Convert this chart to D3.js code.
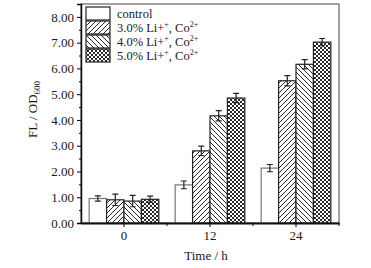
<!DOCTYPE html>
<html>
<head>
<meta charset="utf-8">
<script src="https://cdn.jsdelivr.net/npm/d3@7"></script>
<style>
  body { margin: 0; background: #fff; }
  text { font-family: "Liberation Serif", "Times New Roman", serif; fill: #1a1a1a; }
</style>
</head>
<body>
<div id="chart"></div>
<script>
const W = 371, H = 268;
const margin = { top: 4, right: 32, bottom: 45, left: 81 };
const width = W - margin.left - margin.right;
const height = H - margin.top - margin.bottom;

// data
const times = ["0", "12", "24"];
const seriesNames = ["control", "3.0% Li+, Co2+", "4.0% Li+, Co2+", "5.0% Li+, Co2+"];
const control = [0.95, 1.48, 2.13];
const li30 = [0.90, 2.80, 5.52];
const li40 = [0.85, 4.16, 6.16];
const li50 = [0.92, 4.85, 7.02];
const controlErr = [0.10, 0.15, 0.14];
const li30Err = [0.22, 0.18, 0.20];
const li40Err = [0.22, 0.20, 0.18];
const li50Err = [0.12, 0.18, 0.14];
const yTicks = [0, 1, 2, 3, 4, 5, 6, 7, 8];

const values = [control, li30, li40, li50];
const errors = [controlErr, li30Err, li40Err, li50Err];
const fills = ["#fff", "url(#fwd)", "url(#back)", "url(#cross)"];

const svg = d3.select("#chart").append("svg")
    .attr("width", W)
    .attr("height", H);

// hatch patterns
const defs = svg.append("defs");
function hatch(id, paths, size) {
    const p = defs.append("pattern")
        .attr("id", id)
        .attr("patternUnits", "userSpaceOnUse")
        .attr("width", size).attr("height", size);
    p.append("rect").attr("width", size).attr("height", size).attr("fill", "#fff");
    paths.forEach(d => p.append("path").attr("d", d)
        .attr("stroke", "#111").attr("stroke-width", 0.9).attr("fill", "none"));
}
hatch("fwd", ["M-1,1 L1,-1 M0,5 L5,0 M4,6 L6,4"], 5);
hatch("back", ["M-1,4 L1,6 M0,0 L5,5 M4,-1 L6,1"], 5);
hatch("cross", ["M-1,1 L1,-1 M0,4 L4,0 M3,5 L5,3", "M-1,3 L1,5 M0,0 L4,4 M3,-1 L5,1"], 4);

const g = svg.append("g")
    .attr("transform", `translate(${margin.left},${margin.top})`);

const x0 = d3.scaleBand().domain(times).range([0, width]).paddingInner(0).paddingOuter(0);
const x1 = d3.scaleBand().domain(d3.range(4)).range([x0.bandwidth() * 0.095, x0.bandwidth() * 0.905]);
const y = d3.scaleLinear().domain([0, 8.5]).range([height, 0]);

// frame
g.append("rect")
    .attr("width", width).attr("height", height)
    .attr("fill", "none").attr("stroke", "#444").attr("stroke-width", 1);

// bars
const groups = g.selectAll(".grp")
    .data(times)
    .enter().append("g")
    .attr("transform", d => `translate(${x0(d)},0)`);

groups.each(function (t, ti) {
    const grp = d3.select(this);
    values.forEach((vals, si) => {
        const bx = x1(si), bw = x1.bandwidth();
        grp.append("rect")
            .attr("x", bx).attr("y", y(vals[ti]))
            .attr("width", bw).attr("height", height - y(vals[ti]))
            .attr("fill", fills[si])
            .attr("stroke", si === 0 ? "#777" : "#222")
            .attr("stroke-width", 1.2);
        const cx = bx + bw / 2;
        const hi = y(vals[ti] + errors[si][ti]), lo = y(vals[ti] - errors[si][ti]);
        grp.append("path")
            .attr("d", `M${cx},${hi}V${lo}M${cx - 3},${hi}H${cx + 3}M${cx - 3},${lo}H${cx + 3}`)
            .attr("stroke", "#222").attr("stroke-width", 1.2).attr("fill", "none");
    });
});

// y axis
const yAxis = g.append("g")
    .call(d3.axisLeft(y).tickValues(yTicks).tickFormat(d3.format(".2f")).tickSize(4).tickPadding(3));
yAxis.select(".domain").attr("stroke", "#111").attr("stroke-width", 1.5);
yAxis.selectAll("text").style("font-size", "13px").style("font-family", "Liberation Serif, serif");
g.append("g")
    .call(d3.axisLeft(y).tickValues(yTicks.map(d => d + 0.5)).tickFormat("").tickSize(2))
    .call(a => a.select(".domain").remove());

// x axis
const xAxis = g.append("g")
    .attr("transform", `translate(0,${height})`)
    .call(d3.axisBottom(x0).tickSize(4).tickPadding(4).tickSizeOuter(0));
xAxis.select(".domain").attr("stroke", "#111").attr("stroke-width", 1.8);
xAxis.selectAll("text").style("font-size", "13px").style("font-family", "Liberation Serif, serif");
g.append("g")
    .attr("transform", `translate(0,${height})`)
    .call(d3.axisBottom(x0).tickValues(times).tickFormat("").tickSize(3).tickSizeOuter(0))
    .call(a => {
        a.select(".domain").remove();
        a.selectAll(".tick").attr("transform", d => `translate(${x0(d) + x0.bandwidth()},0)`);
    });

// axis titles
g.append("text")
    .attr("x", width / 2 - 4).attr("y", height + 37)
    .attr("text-anchor", "middle")
    .style("font-size", "13px")
    .text("Time / h");

const yTitle = g.append("text")
    .attr("transform", `translate(${-44},${height / 2 - 4}) rotate(-90)`)
    .attr("text-anchor", "middle")
    .style("font-size", "13px");
yTitle.append("tspan").text("FL / OD");
yTitle.append("tspan").attr("dy", 3).style("font-size", "9px").text("600");

// legend
const legend = g.append("g").attr("transform", "translate(5,3)");
seriesNames.forEach((name, i) => {
    const row = legend.append("g").attr("transform", `translate(0,${i * 14})`);
    row.append("rect")
        .attr("width", 24).attr("height", 13)
        .attr("fill", fills[i]).attr("stroke", "#222").attr("stroke-width", 1.2);
    const t = row.append("text").attr("x", 31).attr("y", 10.5).style("font-size", "12.5px");
    if (i === 0) {
        t.text(name);
    } else {
        t.append("tspan").text(name.slice(0, 8));
        t.append("tspan").attr("dy", -5).style("font-size", "8px").text("+");
        t.append("tspan").attr("dy", 5).text(", Co");
        t.append("tspan").attr("dy", -5).style("font-size", "8px").text("2+");
    }
});
</script>
</body>
</html>
